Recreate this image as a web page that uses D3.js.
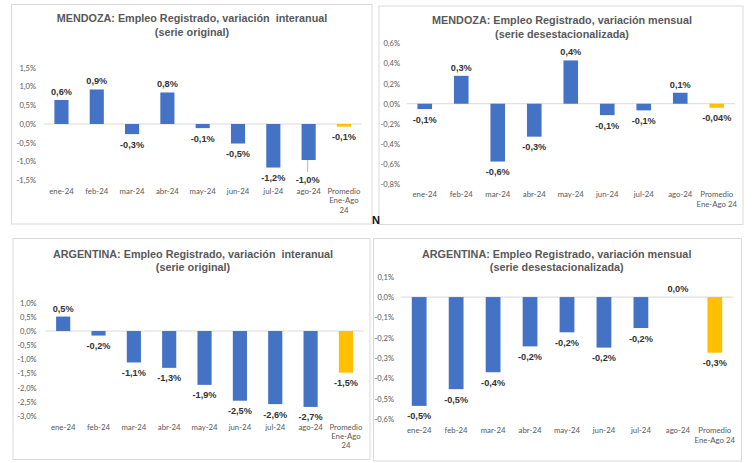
<!DOCTYPE html>
<html><head><meta charset="utf-8">
<script src="https://cdn.jsdelivr.net/npm/d3@7"></script>
<style>body{margin:0;background:#fff}svg{display:block}</style>
</head><body><svg id="c" width="755" height="463"></svg>
<script>
// ---- data ----
const categoriesInteranual = ["ene-24","feb-24","mar-24","abr-24","may-24","jun-24","jul-24","ago-24","Promedio|Ene-Ago|24"];
const categoriesMensual = ["ene-24","feb-24","mar-24","abr-24","may-24","jun-24","jul-24","ago-24","Promedio|Ene-Ago 24"];
const mendozaInteranual = [0.64, 0.92, -0.27, 0.84, -0.11, -0.52, -1.16, -0.96, -0.07];
const mendozaMensual = [-0.053, 0.277, -0.574, -0.327, 0.43, -0.113, -0.066, 0.109, -0.04];
const argentinaInteranual = [0.51, -0.16, -1.11, -1.30, -1.90, -2.46, -2.58, -2.68, -1.47];
const argentinaMensual = [-0.534, -0.452, -0.369, -0.242, -0.173, -0.248, -0.152, 0.0, -0.273];
const decimalsDefault = [1,1,1,1,1,1,1,1,1];
const decimalsMendozaMensual = [1,1,1,1,1,1,1,1,2];
const ticksMendozaInteranual = [-1.5,-1.0,-0.5,0.0,0.5,1.0,1.5];
const ticksMendozaMensual = [-0.8,-0.6,-0.4,-0.2,0.0,0.2,0.4,0.6];
const ticksArgentinaInteranual = [-3.0,-2.5,-2.0,-1.5,-1.0,-0.5,0.0,0.5,1.0];
const ticksArgentinaMensual = [-0.6,-0.5,-0.4,-0.3,-0.2,-0.1,0.0,0.1];
const titleMendozaInteranual = ["MENDOZA: Empleo Registrado, variación\u00a0 interanual", "(serie original)"];
const titleMendozaMensual = ["MENDOZA: Empleo Registrado, variación mensual", "(serie desestacionalizada)"];
const titleArgentinaInteranual = ["ARGENTINA: Empleo Registrado, variación\u00a0 interanual", "(serie original)"];
const titleArgentinaMensual = ["ARGENTINA: Empleo Registrado, variación mensual", "(serie desestacionalizada)"];

// ---- layout / style ----
const BLUE = "#4472C4", GOLD = "#FFC000";
const loc = d3.formatLocale({decimal:",", thousands:".", grouping:[3], currency:["","€"], minus:"-"});
const fmt = d => loc.format("." + d + "f");

const panels = [
  {box:[11.5,4.5,372,224], xr:[43.8,361.6], yr:[180.3,67.7], dom:[-1.5,1.5], ticks:ticksMendozaInteranual,
   tickX:36, catY:190.7, lh:10, tcx:192, ty:[22,36], title:titleMendozaInteranual,
   cats:categoriesInteranual, vals:mendozaInteranual, dec:decimalsDefault, nudge:{7:9}},
  {box:[379,6,743,224.5], xr:[406.5,735], yr:[184.3,43.3], dom:[-0.8,0.6], ticks:ticksMendozaMensual,
   tickX:400, catY:194, lh:10, tcx:562, ty:[24,38], title:titleMendozaMensual,
   cats:categoriesMensual, vals:mendozaMensual, dec:decimalsMendozaMensual, nudge:{}},
  {box:[13,238.5,370,459.5], xr:[45.5,363.6], yr:[416,302.7], dom:[-3,1], ticks:ticksArgentinaInteranual,
   tickX:36.7, catY:426.7, lh:9.3, tcx:193, ty:[258,271], title:titleArgentinaInteranual,
   cats:categoriesInteranual, vals:argentinaInteranual, dec:decimalsDefault, nudge:{}},
  {box:[373.5,238.5,741.5,461], xr:[400.7,733.3], yr:[419.3,276.7], dom:[-0.6,0.1], ticks:ticksArgentinaMensual,
   tickX:394, catY:430, lh:10.5, tcx:556.7, ty:[258,271], title:titleArgentinaMensual,
   cats:categoriesMensual, vals:argentinaMensual, dec:decimalsDefault, nudge:{}}
];

const svg = d3.select("#c");
svg.append("rect").attr("width",755).attr("height",463).attr("fill","#fff");

panels.forEach(p => {
  const g = svg.append("g");
  const [x0,y0,x1,y1] = p.box;
  g.append("rect").attr("x",x0).attr("y",y0).attr("width",x1-x0).attr("height",y1-y0)
    .attr("fill","#fff").attr("stroke","#D9D9D9").attr("stroke-width",1);

  // title
  p.title.forEach((t,i) => {
    g.append("text").attr("x",p.tcx).attr("y",p.ty[i]).attr("text-anchor","middle")
      .attr("font-family","'Liberation Sans', Arial, sans-serif").attr("font-weight","bold")
      .attr("font-size","10.8px").attr("fill","#595959").text(t);
  });

  const x = d3.scaleBand().domain(p.cats).range(p.xr).paddingInner(0).paddingOuter(0);
  const y = d3.scaleLinear().domain(p.dom).range(p.yr);
  const bw = x.bandwidth()*0.4;
  const cx = c => x(c) + x.bandwidth()/2;

  // y axis
  const ya = g.append("g").attr("transform",`translate(${p.tickX},0)`)
    .call(d3.axisLeft(y).tickValues(p.ticks).tickSize(0).tickPadding(0).tickFormat(v => fmt(1)(v)+"%"));
  ya.select(".domain").remove();
  ya.selectAll("text").attr("font-family","Lato, 'Liberation Sans', sans-serif").attr("font-size","7.6px")
    .attr("fill","#595959").attr("dy","0.32em");

  // zero line
  g.append("line").attr("x1",p.xr[0]).attr("x2",p.xr[1]).attr("y1",y(0)).attr("y2",y(0))
    .attr("stroke","#D9D9D9").attr("stroke-width",1);

  // bars
  g.selectAll("rect.bar").data(p.vals).join("rect").attr("class","bar")
    .attr("x",(d,i) => cx(p.cats[i]) - bw/2)
    .attr("y",d => Math.min(y(d),y(0)))
    .attr("width",bw)
    .attr("height",d => Math.abs(y(d)-y(0)))
    .attr("fill",(d,i) => i === p.vals.length-1 ? GOLD : BLUE);

  // data labels
  p.vals.forEach((d,i) => {
    const n = p.nudge[i] || 0;
    const ly = d >= 0 ? y(d) - 5 : y(d) + 13.5 + n;
    if (n) {
      g.append("line").attr("x1",cx(p.cats[i])-1).attr("x2",cx(p.cats[i])-1)
        .attr("y1",y(d)).attr("y2",y(d)+n+3).attr("stroke","#A6A6A6").attr("stroke-width",0.8);
    }
    g.append("text").attr("x",cx(p.cats[i]) - (n?1:0)).attr("y",ly).attr("text-anchor","middle")
      .attr("font-family","'Liberation Sans', Arial, sans-serif").attr("font-weight","bold")
      .attr("font-size","9.2px").attr("fill","#333333").text(fmt(p.dec[i])(d)+"%");
  });

  // category axis
  const xa = g.append("g").attr("transform",`translate(0,${p.catY})`)
    .call(d3.axisBottom(x).tickSize(0).tickPadding(0));
  xa.select(".domain").remove();
  xa.selectAll("text").each(function(c){
    const t = d3.select(this);
    t.text(null).attr("y",0).attr("dy",null)
      .attr("font-family","Lato, 'Liberation Sans', sans-serif").attr("font-size","7.8px").attr("fill","#595959");
    c.split("|").forEach((s,k) => {
      t.append("tspan").attr("x",0).attr("y",2.8 + k*p.lh).text(s);
    });
  });
});

// stray "N" glyph from the source image
svg.append("text").attr("x",376).attr("y",224).attr("text-anchor","middle")
  .attr("font-family","'Liberation Sans', Arial, sans-serif").attr("font-weight","bold")
  .attr("font-size","11px").attr("fill","#111").text("N");
</script>
</body></html>
